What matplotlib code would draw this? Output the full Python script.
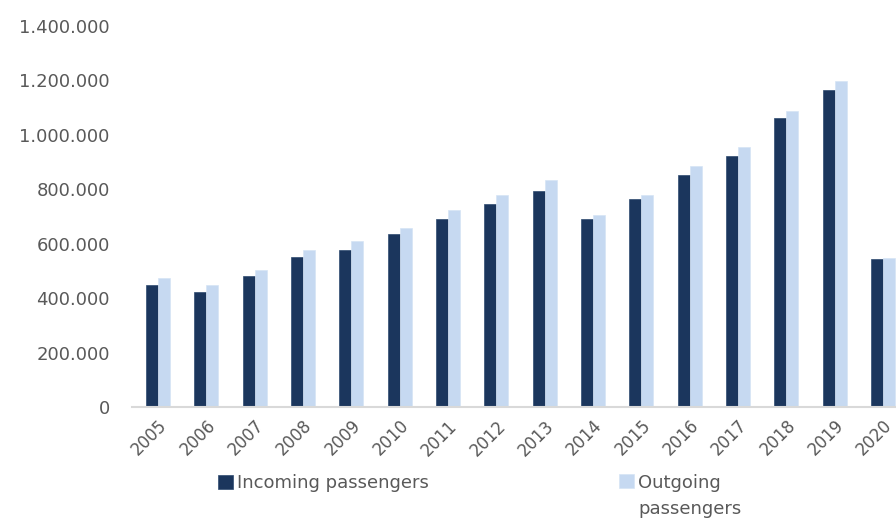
import matplotlib
matplotlib.use("Agg")
import matplotlib.pyplot as plt
import numpy as np
from matplotlib.ticker import FuncFormatter
from matplotlib.legend_handler import HandlerPatch
from matplotlib.patches import Rectangle

years = ["2005", "2006", "2007", "2008", "2009", "2010", "2011", "2012",
         "2013", "2014", "2015", "2016", "2017", "2018", "2019", "2020"]
incoming = [448000, 421000, 482000, 550000, 576000, 637000, 690000, 746000,
            793000, 690000, 765000, 853000, 921000, 1062000, 1164000, 543000]
outgoing = [474000, 448000, 502000, 576000, 609000, 657000, 724000, 779000,
            833000, 705000, 779000, 886000, 955000, 1088000, 1197000, 549000]
series_names = ["Incoming passengers", "Outgoing\npassengers"]

plt.rcParams['font.family'] = ['DejaVu Sans']
gray = "#595959"

fig = plt.figure(figsize=(8.96, 5.2), dpi=100)
ax = fig.add_axes([132/896, 1-407/520, 1-132/896, (407-26)/520])

x = np.arange(len(years))
w = 0.25
b1 = ax.bar(x - w/2, incoming, width=w, color="#1B365D", edgecolor="#2E4A70", linewidth=0.5,
            label=series_names[0])
b2 = ax.bar(x + w/2, outgoing, width=w, color="#C6D9F1", edgecolor="#D6E4F5", linewidth=0.5,
            label=series_names[1])

ax.set_ylim(0, 1400000)
ax.set_xlim(-0.54, 15.27)
ax.set_yticks(np.arange(0, 1400001, 200000))
ax.yaxis.set_major_formatter(FuncFormatter(lambda v, p: f"{int(v):,}".replace(",", ".")))
ax.set_xticks(x)
ax.set_xticklabels(years, rotation=45, ha="right", rotation_mode="anchor")

for s in ["top", "right", "left"]:
    ax.spines[s].set_visible(False)
ax.spines["bottom"].set_color("#D9D9D9")
ax.spines["bottom"].set_linewidth(1.5)
ax.tick_params(axis="y", length=0, pad=16, labelsize=13, labelcolor=gray)
ax.tick_params(axis="x", length=0, pad=7, labelsize=12, labelcolor=gray)


def square(legend, orig_handle, xdescent, ydescent, width, height, fontsize):
    return Rectangle((-xdescent, -ydescent), width, height)


def square_up(legend, orig_handle, xdescent, ydescent, width, height, fontsize):
    return Rectangle((-xdescent, -ydescent + 0.88 * fontsize), width, height)


h1 = b1.patches[0]
h2 = b2.patches[0]
common = dict(frameon=False, fontsize=13, handlelength=0.85, handleheight=0.85,
              handletextpad=0.2, borderpad=0, borderaxespad=0, labelcolor=gray)
fig.legend(handles=[h1], labels=[series_names[0]], loc="center left",
           bbox_to_anchor=(218/896, 1-483/520),
           handler_map={h1: HandlerPatch(patch_func=square)}, **common)
leg2 = fig.legend(handles=[h2], labels=[series_names[1]], loc="center left",
                  bbox_to_anchor=(619/896, 1-496/520),
                  handler_map={h2: HandlerPatch(patch_func=square_up)}, **common)
for t in leg2.get_texts():
    t.set_linespacing(1.5)

fig.savefig("out.png", dpi=100)
